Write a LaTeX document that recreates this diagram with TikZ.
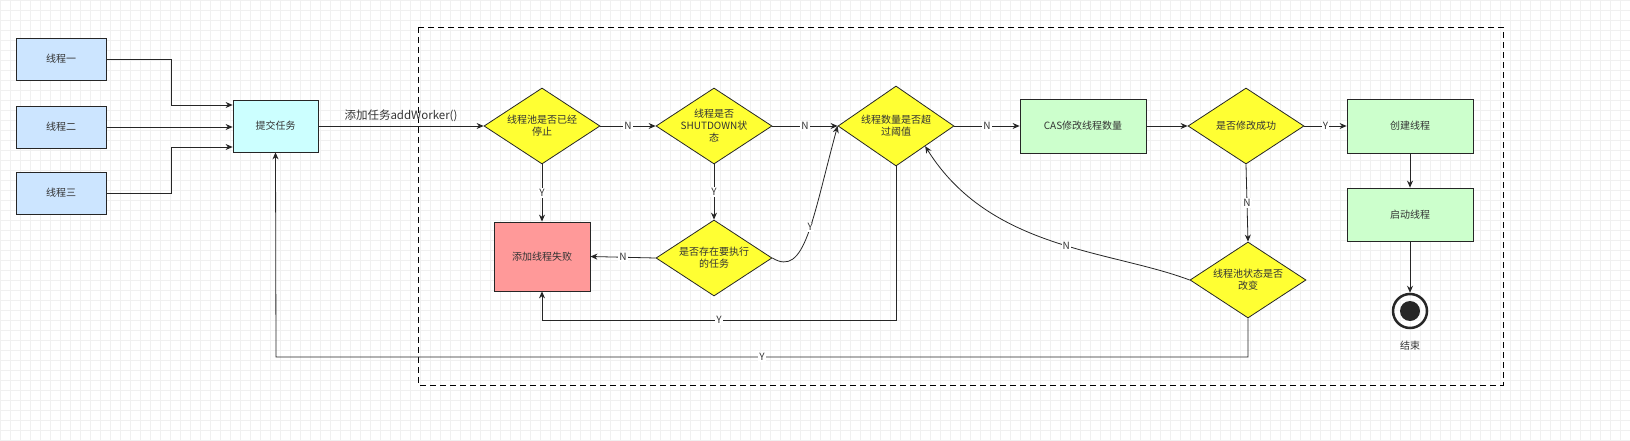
\documentclass[tikz,border=0pt]{standalone}
\usepackage{fontspec}
\newfontfamily\cjk{Noto Sans CJK SC}
\usetikzlibrary{shapes.geometric,arrows.meta}
\definecolor{bluebox}{HTML}{CCE5FF}
\definecolor{cyanbox}{HTML}{CCFFFF}
\definecolor{greenbox}{HTML}{CCFFCC}
\definecolor{redbox}{HTML}{FF9999}
\definecolor{yel}{HTML}{FFFF33}
\tikzset{
  every node/.style={font=\cjk\fontsize{10}{12}\selectfont, text=black!80},
  box/.style={draw=black!85, thick, minimum width=90pt, minimum height=42pt, inner sep=0},
  dia/.style={diamond, draw=black!85, thick, fill=yel, minimum width=116pt, minimum height=76pt, inner sep=0},
  arr/.style={draw=black!85, thick, -{Stealth[length=7pt,width=6pt]}},
  lab/.style={fill=white, inner sep=1pt},
}
\begin{document}
\begin{tikzpicture}[x=1pt,y=-1pt]
\fill[white] (0,0) rectangle (1630,441);
\foreach \i in {0,10,...,1630} \draw[black!6, line width=0.5pt] (\i,0) -- (\i,441);
\foreach \j in {0,10,...,440} \draw[black!6, line width=0.5pt] (0,\j) -- (1630,\j);
\draw[thick, dashed, dash pattern=on 6pt off 4pt] (418,27) rectangle (1503,385);

\node[box, fill=bluebox] (t1) at (61,59) {线程一};
\node[box, fill=bluebox] (t2) at (61,127) {线程二};
\node[box, fill=bluebox] (t3) at (61,193) {线程三};
\node[box, fill=cyanbox, minimum width=85pt, minimum height=52pt] (sub) at (275.5,126) {提交任务};

\node[dia, label={[align=center]center:线程池是否已经\\停止}] (d1) at (542,126) {};
\node[dia, label={[align=center]center:线程是否\\SHUTDOWN状\\态}] (d2) at (714,126) {};
\node[dia, minimum height=80pt, label={[align=center]center:线程数量是否超\\过阈值}] (d3) at (896,126) {};
\node[box, fill=greenbox, minimum width=126pt, minimum height=54pt] (cas) at (1083,126) {CAS修改线程数量};
\node[dia, label={[align=center]center:是否修改成功}] (d4) at (1246,126) {};
\node[box, fill=greenbox, minimum width=126pt, minimum height=54pt] (cr) at (1410,126) {创建线程};
\node[box, fill=greenbox, minimum width=126pt, minimum height=53pt] (st) at (1410,214.5) {启动线程};
\node[circle, draw=black!85, line width=2.5pt, minimum size=34pt, inner sep=0] (end) at (1410,311) {};
\fill[black!85] (end) circle (10pt);
\node (endt) at (1410,346) {结束};
\node[box, fill=redbox, minimum width=96pt, minimum height=69pt] (fail) at (542,256.5) {添加线程失败};
\node[dia, label={[align=center]center:是否存在要执行\\的任务}] (d5) at (714,258) {};
\node[dia, label={[align=center]center:线程池状态是否\\改变}] (d6) at (1248,280) {};

\draw[arr] (t1.east) -- (171,59) -- (171,105) -- (sub.west |- 0,105);
\draw[arr] (t2.east) -- (sub.west |- 0,127);
\draw[arr] (t3.east) -- (171,193) -- (171,147) -- (sub.west |- 0,147);
\draw[arr] (sub.east) -- node[above=1pt, font=\cjk\fontsize{11.5}{13}\selectfont]{添加任务addWorker()} (d1.west);
\draw[arr] (d1.east) -- node[lab]{N} (d2.west);
\draw[arr] (d2.east) -- node[lab]{N} (d3.west);
\draw[arr] (d3.east) -- node[lab]{N} (cas.west);
\draw[arr] (cas.east) -- (d4.west);
\draw[arr] (d4.east) -- node[lab]{Y} (cr.west);
\draw[arr] (cr.south) -- (st.north);
\draw[arr] (st.south) -- (end.north);
\draw[arr] (d1.south) -- node[lab]{Y} (fail.north);
\draw[arr] (d2.south) -- node[lab]{Y} (d5.north);
\draw[arr] (d5.west) -- node[lab]{N} (fail.east);
\draw[arr] (d5.east) .. controls (805,278) and (812,220) .. node[lab, pos=0.55]{Y} (d3.west);
\draw[arr] (d3.south) -- (896,320) -- node[lab]{Y} (542,320) -- (fail.south);
\draw[arr] (d4.south) -- node[lab]{N} (d6.north);
\draw[arr] (d6.west) .. controls (1110,250) and (990,250) .. node[lab, pos=0.45]{N} (d3.south east);
\draw[arr] (d6.south) -- (1248,357) -- node[lab]{Y} (276,357) -- (sub.south);
\pgfresetboundingbox
\useasboundingbox (0,0) rectangle (1630,441);
\end{tikzpicture}
\end{document}
